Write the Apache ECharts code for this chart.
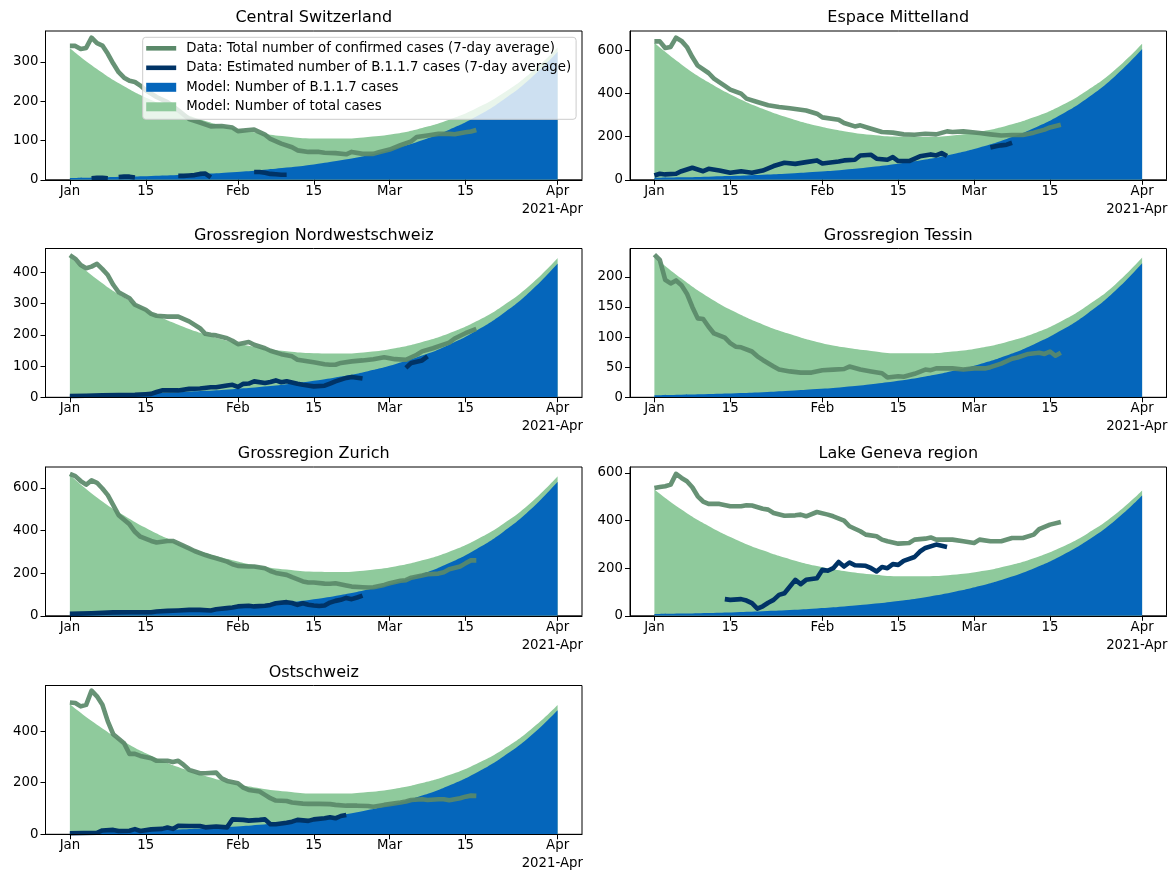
<!DOCTYPE html>
<html><head><meta charset="utf-8">
<script src="https://cdn.jsdelivr.net/npm/echarts/dist/echarts.min.js"></script>
<style>html,body{margin:0;padding:0;background:#fff}#c{width:1173px;height:870px}</style>
</head><body><div id="c"></div>
<script>
// ---------- data ----------
const xTickDays = [0, 14, 31, 45, 59, 73, 90];
const xTickLabels = ['Jan', '15', 'Feb', '15', 'Mar', '15', 'Apr'];
const offsetLabel = '2021-Apr';
const regionNames = ['Central Switzerland', 'Espace Mittelland', 'Grossregion Nordwestschweiz', 'Grossregion Tessin', 'Grossregion Zurich', 'Lake Geneva region', 'Ostschweiz'];
const yMax = [379, 691, 476, 247, 698, 625, 577];
const yTicks = [[0, 100, 200, 300], [0, 200, 400, 600], [0, 100, 200, 300, 400], [0, 50, 100, 150, 200], [0, 200, 400, 600], [0, 200, 400, 600], [0, 200, 400]];
const seriesNames = ['Data: Total number of confirmed cases (7-day average)', 'Data: Estimated number of B.1.1.7 cases (7-day average)', 'Model: Number of B.1.1.7 cases', 'Model: Number of total cases'];

const modelDays = [0, 5, 10, 15, 20, 25, 30, 35, 40, 45, 50, 55, 60, 65, 70, 75, 80, 85, 90];

const centralModelTotal = [335, 282, 238, 203, 174, 150, 132, 119, 110, 105, 105, 109, 117, 132, 153, 182, 221, 272, 337];
const centralModelB117 = [4.8, 6.1, 7.7, 9.7, 12.2, 15.4, 19.5, 24.6, 31.1, 39.2, 49.5, 62.5, 79.5, 100.5, 127.5, 161.0, 204.0, 258.0, 326.0];
const espaceModelTotal = [636, 536, 453, 385, 330, 286, 251, 226, 209, 200, 199, 206, 223, 251, 290, 344, 417, 511, 632];
const espaceModelB117 = [9.2, 11.5, 14.6, 18.4, 23.3, 29.3, 37.1, 46.8, 59.1, 74.6, 94.1, 118.8, 149.9, 189.3, 239.0, 301.7, 380.8, 480.8, 606.9];
const nordwestModelTotal = [449, 378, 319, 271, 232, 201, 177, 159, 147, 141, 140, 145, 157, 177, 205, 243, 294, 360, 446];
const nordwestModelB117 = [6.5, 8.1, 10.3, 13.0, 16.4, 20.7, 26.1, 33.0, 41.6, 52.6, 66.3, 83.7, 105.7, 133.4, 168.4, 212.6, 268.5, 338.9, 427.9];
const tessinModelTotal = [233, 197, 166, 141, 121, 105, 92, 83, 77, 73, 73, 76, 82, 92, 106, 126, 153, 187, 232];
const tessinModelB117 = [3.4, 4.2, 5.4, 6.8, 8.5, 10.8, 13.6, 17.2, 21.7, 27.4, 34.5, 43.6, 55.0, 69.4, 87.7, 110.7, 139.7, 176.4, 222.6];
const zurichModelTotal = [660, 555, 470, 399, 342, 296, 261, 234, 217, 207, 206, 214, 231, 260, 301, 357, 432, 529, 655];
const zurichModelB117 = [9.5, 12.0, 15.2, 19.1, 24.1, 30.4, 38.4, 48.5, 61.2, 77.3, 97.6, 123.1, 155.4, 196.2, 247.7, 312.7, 394.8, 498.4, 629.2];
const genevaModelTotal = [530, 446, 377, 321, 275, 238, 209, 188, 174, 166, 166, 172, 186, 209, 242, 287, 347, 425, 526];
const genevaModelB117 = [7.6, 9.6, 12.2, 15.3, 19.4, 24.4, 30.9, 38.9, 49.2, 62.1, 78.4, 98.9, 124.8, 157.6, 198.9, 251.1, 317.1, 400.3, 505.3];
const ostModelTotal = [504, 425, 359, 305, 261, 226, 199, 179, 166, 158, 158, 164, 177, 199, 230, 273, 330, 405, 501];
const ostModelB117 = [7.3, 9.1, 11.6, 14.6, 18.4, 23.3, 29.4, 37.1, 46.8, 59.1, 74.6, 94.1, 118.8, 150.0, 189.4, 239.1, 301.9, 381.1, 481.1];

const centralTotalData = [[0,341],[1,341],[2,333],[3,336],[4,362],[5,348],[6,342],[7,321],[8,296],[9,274],[10,260],[11,252],[12,249],[13,240],[14,228],[16,211],[18,198],[20,177],[22,155],[24,146],[26,136],[28,137],[30,133],[31,124],[33,127],[34,128],[36,115],[37,104],[39,92],[41,83],[42,75],[44,71],[46,71],[47,69],[49,68],[51,65],[52,71],[54,66],[56,66],[57,70],[59,77],[61,88],[63,98],[64,109],[66,113],[68,117],[70,117],[71,116],[73,121],[74,123],[75,127]];
const centralB117Data = [[4,4],[5,5],[6,5],[7,4],[8,null],[9,7],[10,8],[11,8],[12,6],[13,null],[20,10],[21,10],[22,11],[23,12],[24,15],[25,16],[26,6],[27,null],[34,20],[35,20],[36,18],[37,15],[38,14],[39,13],[40,13]];

const espaceTotalData = [[0,643],[1,643],[2,612],[3,617],[4,660],[5,645],[6,617],[7,570],[8,530],[10,496],[11,470],[13,436],[14,419],[16,400],[17,377],[19,361],[21,346],[23,338],[25,332],[28,322],[30,307],[31,290],[34,279],[35,264],[37,248],[38,253],[40,237],[42,222],[44,219],[46,211],[48,209],[50,214],[52,211],[54,225],[55,222],[57,225],[60,217],[62,211],[64,206],[66,208],[68,208],[70,219],[72,233],[73,243],[75,256]];
const espaceB117Data = [[0,20],[1,28],[2,25],[4,28],[5,40],[7,56],[9,40],[10,51],[12,43],[14,33],[16,40],[18,33],[20,43],[22,64],[24,79],[26,74],[28,82],[30,90],[31,76],[34,85],[35,90],[37,93],[38,113],[40,116],[41,98],[43,93],[44,105],[45,87],[47,87],[49,109],[51,118],[52,113],[53,124],[54,110],[58,null],[62,150],[63,156],[64,160],[65,163],[66,172]];

const nordwestTotalData = [[0,455],[1,443],[2,423],[3,413],[4,418],[5,427],[6,410],[7,391],[8,360],[9,336],[11,317],[12,296],[14,280],[15,267],[16,261],[18,258],[20,258],[22,243],[24,221],[25,203],[26,200],[27,198],[29,189],[30,181],[31,170],[33,177],[34,168],[36,157],[37,149],[39,138],[41,131],[42,120],[45,112],[47,106],[48,104],[49,104],[50,110],[52,115],[54,118],[56,122],[58,128],[60,122],[62,120],[63,128],[64,136],[65,147],[67,157],[70,175],[71,188],[73,205],[75,219]];
const nordwestB117Data = [[0,4],[3,5],[6,6],[9,7],[12,8],[14,10],[15,11],[16,17],[17,22],[20,22],[22,27],[24,28],[26,32],[27,32],[29,38],[30,40],[31,33],[32,43],[33,44],[34,51],[36,46],[37,49],[38,54],[39,48],[40,51],[42,43],[43,40],[45,35],[47,37],[48,44],[49,51],[51,62],[52,65],[54,60],[58,null],[62,94],[63,110],[65,118],[66,131]];

const tessinTotalData = [[0,237],[1,228],[2,195],[3,189],[4,194],[5,186],[6,172],[7,150],[8,131],[9,130],[10,117],[11,106],[13,99],[14,90],[15,84],[16,83],[18,76],[19,68],[20,62],[22,51],[23,46],[25,43],[27,41],[29,41],[31,45],[33,46],[35,47],[36,51],[38,46],[40,43],[42,40],[43,33],[45,35],[46,34],[48,39],[50,46],[51,45],[52,48],[55,48],[57,46],[59,48],[61,48],[62,50],[64,56],[66,64],[67,66],[69,72],[71,74],[72,72],[73,76],[74,69],[75,74]];
const tessinB117Data = [];

const zurichTotalData = [[0,666],[1,655],[2,632],[3,615],[4,635],[5,624],[6,597],[7,566],[8,519],[9,472],[11,429],[12,394],[13,371],[15,351],[16,344],[18,351],[19,351],[20,340],[22,316],[23,304],[25,285],[26,277],[27,270],[29,254],[30,242],[31,234],[33,231],[34,231],[36,223],[37,210],[38,201],[40,192],[41,181],[43,161],[44,156],[45,156],[47,151],[48,150],[49,153],[51,142],[52,137],[54,134],[55,133],[56,134],[58,145],[59,153],[61,164],[62,167],[63,179],[65,189],[66,195],[68,198],[69,204],[70,218],[72,231],[73,246],[74,260],[75,260]];
const zurichB117Data = [[0,9],[4,12],[8,16],[11,17],[15,17],[16,20],[18,23],[20,25],[22,28],[24,28],[26,25],[27,31],[29,36],[30,39],[31,44],[33,47],[34,44],[36,47],[37,51],[38,59],[40,64],[41,60],[42,51],[43,59],[44,52],[45,48],[46,46],[47,48],[48,62],[49,70],[50,75],[51,84],[52,78],[53,86],[54,95]];

const genevaTotalData = [[0,537],[1,541],[2,544],[3,551],[4,596],[5,579],[6,565],[7,540],[8,502],[9,480],[10,470],[12,470],[14,460],[16,460],[17,464],[18,463],[20,450],[21,446],[22,432],[24,420],[26,422],[27,425],[28,418],[30,436],[32,425],[33,418],[35,400],[36,376],[38,355],[39,341],[41,334],[42,320],[43,313],[45,303],[47,306],[48,320],[50,324],[51,329],[52,320],[55,320],[57,313],[59,306],[60,320],[62,313],[64,313],[66,327],[68,327],[70,341],[71,364],[73,383],[75,394]];
const genevaB117Data = [[13,70],[14,67],[16,70],[17,64],[18,53],[19,30],[20,40],[21,55],[22,67],[23,88],[24,95],[26,151],[27,133],[28,151],[30,158],[31,193],[32,189],[33,200],[34,226],[35,207],[36,224],[37,212],[39,210],[40,200],[41,186],[42,205],[43,200],[44,217],[45,214],[46,231],[48,247],[49,270],[50,285],[52,299],[53,294],[54,289]];

const ostTotalData = [[0,511],[1,509],[2,496],[3,502],[4,557],[5,535],[6,502],[7,438],[8,388],[10,353],[11,312],[12,312],[13,304],[15,295],[16,285],[18,285],[19,280],[20,285],[21,269],[22,250],[24,237],[25,237],[27,239],[28,217],[29,207],[31,198],[32,181],[33,172],[35,166],[36,153],[37,140],[38,131],[40,129],[41,123],[43,119],[44,118],[46,118],[48,117],[49,114],[51,111],[53,111],[55,110],[56,107],[58,114],[59,117],[61,123],[62,127],[63,133],[65,136],[66,133],[68,136],[69,136],[70,132],[72,140],[73,146],[74,150],[75,149]];
const ostB117Data = [[0,4],[5,6],[6,15],[8,17],[9,13],[11,14],[12,20],[13,13],[15,19],[17,21],[18,26],[19,21],[20,33],[22,32],[24,32],[25,27],[27,30],[29,27],[30,58],[32,56],[33,53],[35,56],[36,58],[37,39],[38,39],[40,45],[41,49],[42,56],[44,52],[45,58],[47,62],[48,66],[49,62],[50,71],[51,75]];

// ---------- layout & style ----------
const panels = [
  {total: centralTotalData, b117: centralB117Data, mT: centralModelTotal, mB: centralModelB117},
  {total: espaceTotalData, b117: espaceB117Data, mT: espaceModelTotal, mB: espaceModelB117},
  {total: nordwestTotalData, b117: nordwestB117Data, mT: nordwestModelTotal, mB: nordwestModelB117},
  {total: tessinTotalData, b117: tessinB117Data, mT: tessinModelTotal, mB: tessinModelB117},
  {total: zurichTotalData, b117: zurichB117Data, mT: zurichModelTotal, mB: zurichModelB117},
  {total: genevaTotalData, b117: genevaB117Data, mT: genevaModelTotal, mB: genevaModelB117},
  {total: ostTotalData, b117: ostB117Data, mT: ostModelTotal, mB: ostModelB117}
];
const colLeft = [45.5, 630];
const rowTop = [31, 248.5, 467, 685.5];
const gridW = 536.5, gridH = 148.8;
const FONT = 'DejaVu Sans';
const C_GREEN = '#8fca9c', C_BLUE = '#0566bb', C_DATA = '#5a8969', C_B117 = '#003366';
const LINE_ICON = 'path://M0,0H30V4.6H0Z';

const grids = [], xAxes = [], yAxes = [], series = [], titles = [], graphics = [];
panels.forEach((p, i) => {
  const left = colLeft[i % 2], top = rowTop[Math.floor(i / 2)];
  grids.push({left: left, top: top, width: gridW, height: gridH, show: true, borderColor: '#000', borderWidth: 1, backgroundColor: 'rgba(0,0,0,0)', containLabel: false});
  xAxes.push({type: 'value', gridIndex: i, min: -4.5, max: 94.5, z: 10,
    axisLine: {show: true, onZero: false, lineStyle: {color: '#000', width: 1}},
    axisTick: {show: true, length: 5, lineStyle: {color: '#000', width: 1}, customValues: xTickDays},
    axisLabel: {customValues: xTickDays, margin: 5, color: '#000', fontFamily: FONT, fontSize: 13.3,
      formatter: v => xTickLabels[xTickDays.indexOf(v)] || ''},
    splitLine: {show: false}});
  yAxes.push({type: 'value', gridIndex: i, min: 0, max: yMax[i], z: 10,
    axisLine: {show: true, onZero: false, lineStyle: {color: '#000', width: 1}},
    axisTick: {show: true, length: 5, lineStyle: {color: '#000', width: 1}, customValues: yTicks[i]},
    axisLabel: {customValues: yTicks[i], margin: 7, color: '#000', fontFamily: FONT, fontSize: 13.3},
    splitLine: {show: false}});
  titles.push({text: regionNames[i], left: left + gridW / 2, top: top - 21, textAlign: 'center', padding: 0,
    textStyle: {fontFamily: FONT, fontSize: 16, fontWeight: 'normal', color: '#000'}});
  graphics.push({type: 'text', x: left + gridW + 1, y: top + gridH + 29.5, z: 100,
    style: {text: offsetLabel, align: 'right', verticalAlign: 'middle', textAlign: 'right', textVerticalAlign: 'middle', fontFamily: FONT, fontSize: 13.3, fill: '#000'}});
  series.push({type: 'line', name: seriesNames[3], xAxisIndex: i, yAxisIndex: i, z: 1, smooth: true, symbol: 'none',
    data: modelDays.map((d, k) => [d, p.mT[k]]), lineStyle: {width: 0}, itemStyle: {color: C_GREEN}, areaStyle: {color: C_GREEN, opacity: 1}});
  series.push({type: 'line', name: seriesNames[2], xAxisIndex: i, yAxisIndex: i, z: 2, smooth: true, symbol: 'none',
    data: modelDays.map((d, k) => [d, p.mB[k]]), lineStyle: {width: 0}, itemStyle: {color: C_BLUE}, areaStyle: {color: C_BLUE, opacity: 1}});
  series.push({type: 'line', name: seriesNames[0], xAxisIndex: i, yAxisIndex: i, z: 3, symbol: 'none',
    data: p.total, itemStyle: {color: C_DATA}, lineStyle: {color: C_DATA, width: 4.6, opacity: 0.92, join: 'round'}});
  series.push({type: 'line', name: seriesNames[1], xAxisIndex: i, yAxisIndex: i, z: 4, symbol: 'none', connectNulls: false,
    data: p.b117, itemStyle: {color: C_B117}, lineStyle: {color: C_B117, width: 4.6, join: 'round'}});
});

const chart = echarts.init(document.getElementById('c'), null, {renderer: 'canvas'});
chart.setOption({
  animation: false,
  backgroundColor: '#fff',
  textStyle: {fontFamily: FONT},
  title: titles,
  grid: grids,
  xAxis: xAxes,
  yAxis: yAxes,
  graphic: graphics,
  legend: {
    left: 142.7, top: 37.3, orient: 'vertical', z: 20,
    itemWidth: 30, itemHeight: 9, itemGap: 4.5, symbolKeepAspect: true,
    padding: [3.5, 5, 5, 3.5],
    backgroundColor: 'rgba(255,255,255,0.8)', borderColor: '#cccccc', borderWidth: 1, borderRadius: 3,
    selectedMode: false,
    textStyle: {fontFamily: FONT, fontSize: 13.3, color: '#000', lineHeight: 15, padding: [0, 0, 0, 5]},
    data: [
      {name: seriesNames[0], icon: LINE_ICON, itemStyle: {color: C_DATA}},
      {name: seriesNames[1], icon: LINE_ICON, itemStyle: {color: C_B117}},
      {name: seriesNames[2], icon: 'rect', itemStyle: {color: C_BLUE}},
      {name: seriesNames[3], icon: 'rect', itemStyle: {color: C_GREEN}}
    ]
  },
  series: series
});
</script></body></html>
